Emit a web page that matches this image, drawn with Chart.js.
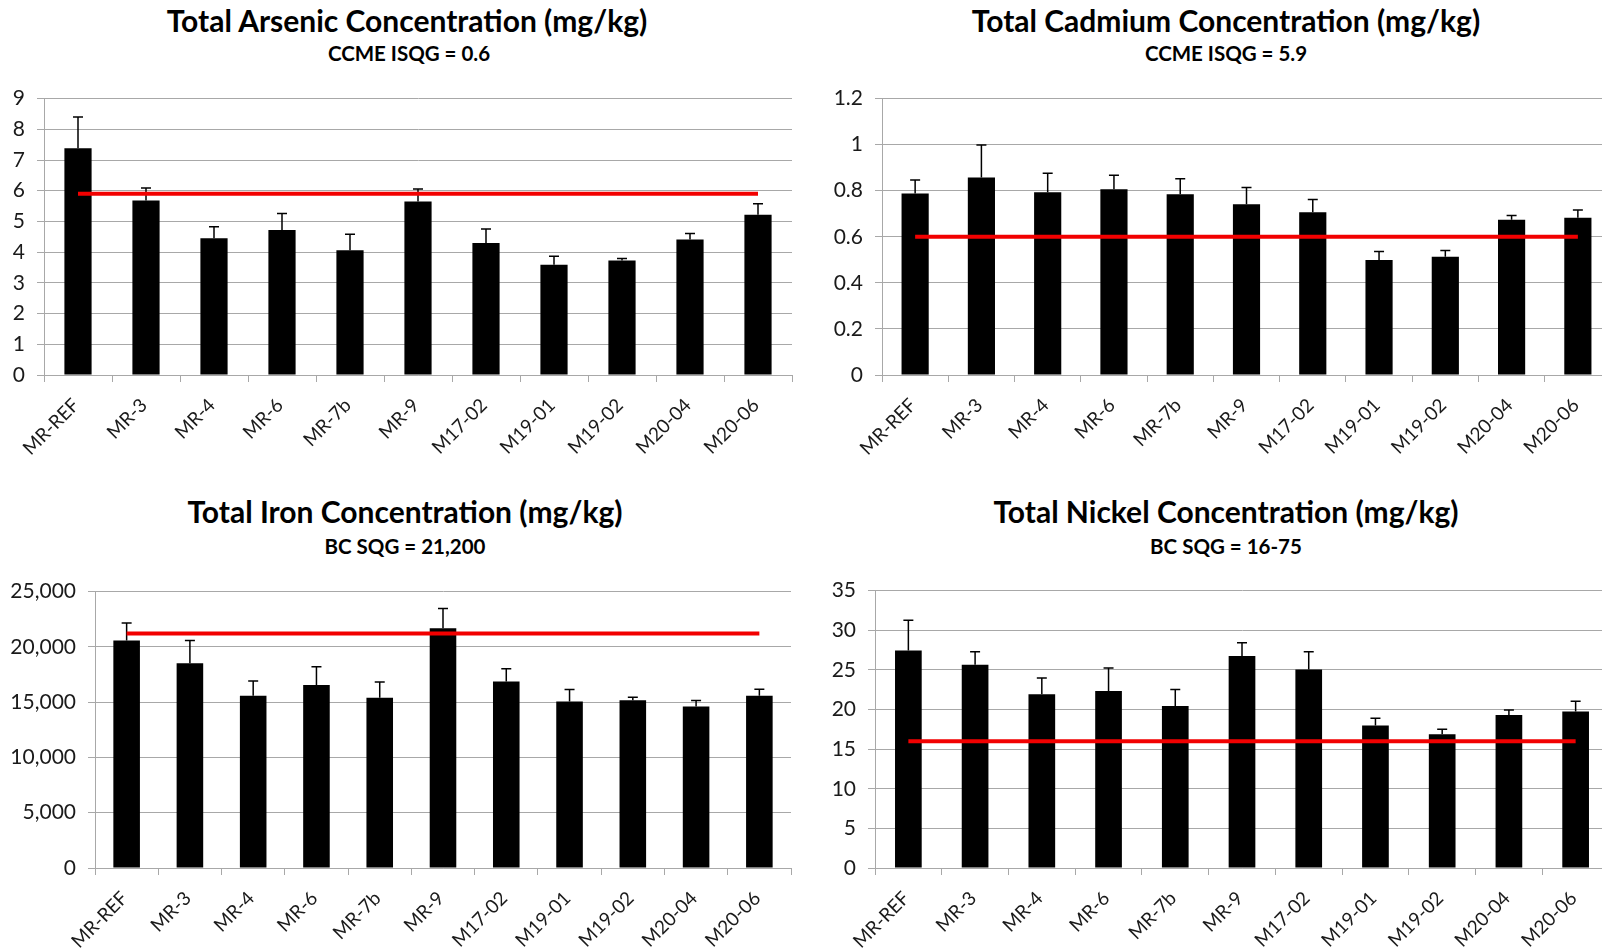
<!DOCTYPE html>
<html>
<head>
<meta charset="utf-8">
<script src="https://cdn.jsdelivr.net/npm/chart.js@4.4.0/dist/chart.umd.min.js"></script>
<style>
  html, body { margin:0; padding:0; background:#fff; width:1602px; height:950px; overflow:hidden; }
  body { position:relative; font-family: Lato, "Open Sans", sans-serif; }
  .box { position:absolute; }
  .title { position:absolute; width:800px; text-align:center; font-weight:bold; color:#000; line-height:1; white-space:nowrap; }
  .t1 { font-size:30px; }
  .t2 { font-size:20.5px; }
</style>
</head>
<body>
<div class="box" id="b1" style="left:0px; top:74px; width:800px; height:406px;"><canvas id="c1"></canvas></div>
<div class="box" id="b2" style="left:822px; top:74px; width:797px; height:406px;"><canvas id="c2"></canvas></div>
<div class="box" id="b3" style="left:0px; top:567px; width:799px; height:406px;"><canvas id="c3"></canvas></div>
<div class="box" id="b4" style="left:815px; top:566px; width:802px; height:407px;"><canvas id="c4"></canvas></div>

<div class="title t1" style="left:7px; top:5px;">Total Arsenic Concentration (mg/kg)</div>
<div class="title t2" style="left:9px; top:43px;">CCME ISQG = 0.6</div>
<div class="title t1" style="left:826px; top:5px;">Total Cadmium Concentration (mg/kg)</div>
<div class="title t2" style="left:826px; top:43px;">CCME ISQG = 5.9</div>
<div class="title t1" style="left:5px; top:496px;">Total Iron Concentration (mg/kg)</div>
<div class="title t2" style="left:5px; top:536px;">BC SQG = 21,200</div>
<div class="title t1" style="left:826px; top:496px;">Total Nickel Concentration (mg/kg)</div>
<div class="title t2" style="left:826px; top:536px;">BC SQG = 16-75</div>

<script>
// ---- data ----
const categories = ['MR-REF','MR-3','MR-4','MR-6','MR-7b','MR-9','M17-02','M19-01','M19-02','M20-04','M20-06'];

const arsenicMean = [7.38, 5.68, 4.45, 4.72, 4.06, 5.65, 4.30, 3.59, 3.73, 4.41, 5.22];
const arsenicSd   = [1.02, 0.41, 0.38, 0.54, 0.52, 0.41, 0.45, 0.28, 0.06, 0.20, 0.36];
const arsenicGuide = 5.9;
const arsenicTicks = {min:0, max:9, step:1};

const cadmiumMean = [0.788, 0.857, 0.793, 0.806, 0.785, 0.741, 0.707, 0.499, 0.513, 0.674, 0.683];
const cadmiumSd   = [0.059, 0.142, 0.083, 0.061, 0.067, 0.073, 0.055, 0.037, 0.027, 0.018, 0.033];
const cadmiumGuide = 0.6;
const cadmiumTicks = {min:0, max:1.2, step:0.2};

const ironMean = [20570, 18530, 15570, 16560, 15390, 21680, 16860, 15060, 15180, 14610, 15570];
const ironSd   = [1590, 2040, 1350, 1640, 1440, 1790, 1160, 1080, 270, 540, 600];
const ironGuide = 21200;
const ironTicks = {min:0, max:25000, step:5000};

const nickelMean = [27.45, 25.65, 21.92, 22.34, 20.45, 26.74, 25.06, 17.98, 16.89, 19.32, 19.74];
const nickelSd   = [3.82, 1.63, 2.05, 2.89, 2.06, 1.68, 2.22, 0.92, 0.63, 0.63, 1.30];
const nickelGuide = 16;
const nickelTicks = {min:0, max:35, step:5};

// ---- helpers ----
function errorBarPlugin(mean, sd) {
  return {
    id: 'errorBars',
    afterDatasetDraw(chart, args) {
      if (args.index !== 0) return;
      const ctx = chart.ctx, y = chart.scales.y;
      ctx.save();
      ctx.strokeStyle = '#000';
      ctx.lineWidth = 1.5;
      args.meta.data.forEach((bar, i) => {
        const top = y.getPixelForValue(mean[i] + sd[i]);
        const base = y.getPixelForValue(mean[i]);
        ctx.beginPath();
        ctx.moveTo(bar.x, base);
        ctx.lineTo(bar.x, top);
        ctx.moveTo(bar.x - 5, top);
        ctx.lineTo(bar.x + 5, top);
        ctx.stroke();
      });
      ctx.restore();
    }
  };
}

const GRID = '#a8a8a8';
const FONT = 'Lato, "Open Sans", sans-serif';

function makeChart(id, mean, sd, guide, ticks, yWidth, barPct) {
  return new Chart(document.getElementById(id), {
    data: {
      labels: categories,
      datasets: [
        { type:'bar', data: mean, backgroundColor:'#000', borderWidth:0,
          barPercentage: barPct, categoryPercentage: 1.0, order: 1 },
        { type:'line', data: categories.map(() => guide), borderColor:'#f20000',
          borderWidth: 4, pointRadius: 0, fill:false, order: 0 }
      ]
    },
    options: {
      responsive: true,
      maintainAspectRatio: false,
      animation: false,
      layout: { padding: { top: 7, right: 8, left: 0, bottom: 0 } },
      plugins: { legend: { display:false }, tooltip: { enabled:false }, title: { display:false } },
      scales: {
        x: {
          offset: true,
          grid: { display:true, drawOnChartArea:false, drawTicks:true, tickLength:7, color:GRID, offset:true },
          border: { display:true, color:GRID, width:1 },
          ticks: { minRotation:45, maxRotation:45, autoSkip:false, padding:12, labelOffset:-2,
                   color:'#1a1a1a', font:{ family:FONT, size:19 } },
          afterFit: (s) => { s.height = 105; }
        },
        y: {
          min: ticks.min, max: ticks.max,
          grid: { color:GRID, lineWidth:1, tickLength:7, drawTicks:true },
          border: { display:true, color:GRID, width:1 },
          ticks: { stepSize: ticks.step, padding:12, color:'#1a1a1a', font:{ family:FONT, size:21 },
                   callback: (v) => (Math.round(v * 1000) / 1000).toLocaleString('en-US') },
          afterFit: (s) => { s.width = yWidth; }
        }
      }
    },
    plugins: [errorBarPlugin(mean, sd)]
  });
}

makeChart('c1', arsenicMean, arsenicSd, arsenicGuide, arsenicTicks, 44, 0.40);
makeChart('c2', cadmiumMean, cadmiumSd, cadmiumGuide, cadmiumTicks, 60, 0.41);
makeChart('c3', ironMean, ironSd, ironGuide, ironTicks, 95, 0.42);
makeChart('c4', nickelMean, nickelSd, nickelGuide, nickelTicks, 60, 0.40);
</script>
</body>
</html>
